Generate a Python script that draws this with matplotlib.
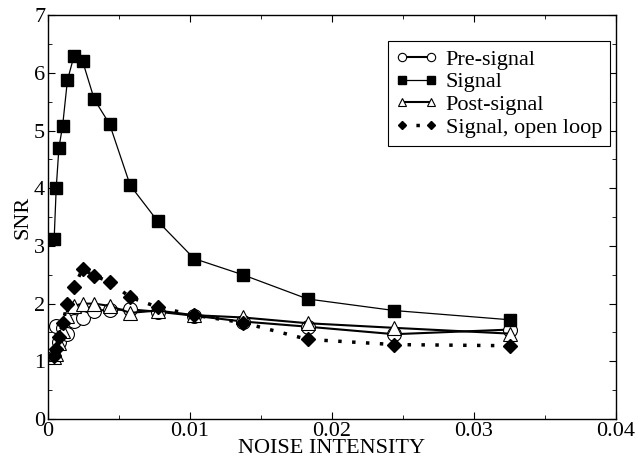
import matplotlib as mpl

mpl.use("Agg")
import matplotlib.pyplot as plt
from matplotlib.ticker import MultipleLocator, FuncFormatter

# noise intensity values
noise = [0.000435, 0.00058, 0.00077, 0.00103, 0.00137, 0.00183, 0.00244, 0.00326,
         0.00434, 0.00579, 0.00772, 0.01029, 0.01372, 0.01829, 0.02439, 0.03252]

pre_signal = [1.07, 1.62, 1.33, 1.57, 1.47, 1.70, 1.75, 1.88,
              1.89, 1.90, 1.86, 1.79, 1.69, 1.60, 1.47, 1.55]
signal = [3.12, 4.00, 4.70, 5.08, 5.87, 6.29, 6.20, 5.54,
          5.11, 4.05, 3.43, 2.78, 2.50, 2.08, 1.88, 1.72]
post_signal = [1.08, 1.13, 1.32, 1.52, 1.79, 1.96, 2.00, 2.00,
               1.96, 1.84, 1.88, 1.80, 1.76, 1.66, 1.58, 1.48]
open_loop = [1.09, 1.22, 1.42, 1.66, 2.00, 2.29, 2.60, 2.48,
             2.38, 2.11, 1.94, 1.80, 1.67, 1.38, 1.29, 1.27]

mpl.rcParams.update({
    "font.family": "serif",
    "font.serif": ["Liberation Serif", "DejaVu Serif"],
    "font.size": 16,
    "xtick.direction": "in",
    "ytick.direction": "in",
    "xtick.top": True,
    "ytick.right": True,
    "axes.linewidth": 1.0,
})

fig = plt.figure(figsize=(6.38, 4.59), dpi=100)
ax = fig.add_axes([0.0752, 0.0871, 0.8903, 0.880])

ax.plot(noise, pre_signal, color="black", lw=1.5, marker="o", ms=10,
        mfc="white", mec="black", mew=0.8, label="Pre-signal")
ax.plot(noise, signal, color="black", lw=0.9, marker="s", ms=9,
        mfc="black", mec="black", label="Signal")
ax.plot(noise, post_signal, color="black", lw=1.5, marker="^", ms=10,
        mfc="white", mec="black", mew=0.8, label="Post-signal")
ax.plot(noise, open_loop, color="black", lw=2.5, ls=(0, (1, 3)), marker="D", ms=7,
        mfc="black", mec="black", label="Signal, open loop")

ax.set_xlim(0, 0.04)
ax.set_ylim(0, 7)
ax.xaxis.set_major_locator(MultipleLocator(0.01))
ax.xaxis.set_minor_locator(MultipleLocator(0.005))
ax.yaxis.set_major_locator(MultipleLocator(1))
ax.yaxis.set_minor_locator(MultipleLocator(0.5))
ax.xaxis.set_major_formatter(FuncFormatter(lambda v, pos: "%g" % round(v, 4)))
ax.tick_params(which="major", length=5, pad=2)
ax.tick_params(which="minor", length=3)
ax.set_xlabel("NOISE INTENSITY", labelpad=-1)
ax.set_ylabel("SNR", labelpad=1)

leg = ax.legend(loc="upper right", bbox_to_anchor=(0.989, 0.935), numpoints=2,
                markerscale=0.6, fancybox=False, edgecolor="black", framealpha=1,
                handlelength=1.9, handletextpad=0.35, borderpad=0.35,
                labelspacing=0.1, borderaxespad=0, fontsize=16)
leg.get_frame().set_linewidth(0.8)

fig.savefig("out.png", dpi=100)
